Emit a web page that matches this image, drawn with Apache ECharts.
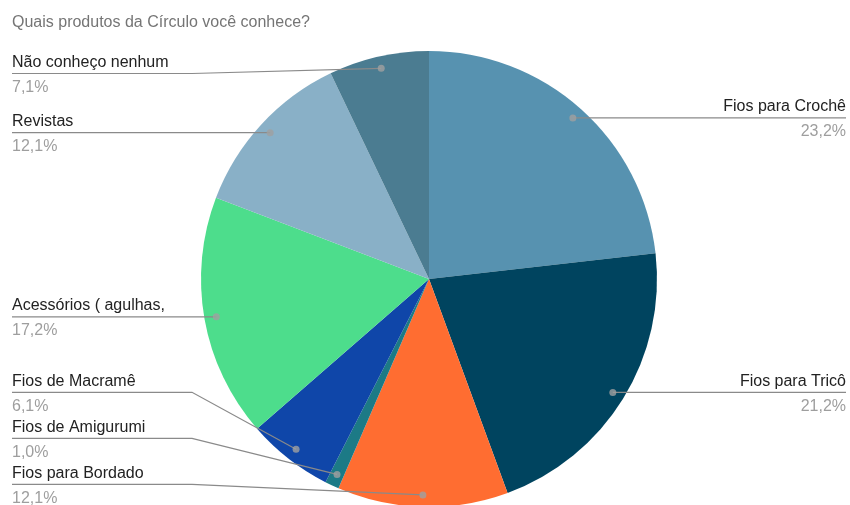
<!DOCTYPE html>
<html>
<head>
<meta charset="utf-8">
<script src="https://cdn.jsdelivr.net/npm/echarts@6/dist/echarts.min.js"></script>
<style>
  html, body { margin: 0; padding: 0; background: #ffffff; }
  #chart { width: 850px; height: 505px; }
</style>
</head>
<body>
<div id="chart"></div>
<script>
// Survey answers: share of respondents per product line (percent)
const categories = [
  'Fios para Crochê',
  'Fios para Tricô',
  'Fios para Bordado',
  'Fios de Amigurumi',
  'Fios de Macramê',
  'Acessórios ( agulhas,',
  'Revistas',
  'Não conheço nenhum'
];
const shares = [23.2, 21.2, 12.1, 1.0, 6.1, 17.2, 12.1, 7.1];
const sliceColors = ['#5792b0', '#00445f', '#ff6d31', '#1c7a86', '#0f46a9', '#4ddd8c', '#89b0c7', '#4b7c91'];

const FONT = "'Liberation Sans', Arial, sans-serif";
const CENTER = [429, 279];
const RADIUS = 228;
const DOT_RADIUS = 216;          // leader lines start a little inside the rim
const LEFT_EDGE = 12;
const RIGHT_EDGE = 846;
const LABEL_TOP = 73.5;
const LABEL_BOTTOM = 484.3;
const LABEL_GAP = 46;
const BEND_X = 192;

// angular midpoint of every slice, in percent of the full turn
const midShares = [];
let acc = 0;
shares.forEach(v => { midShares.push(acc + v / 2); acc += v; });

const fmtPct = v => v.toFixed(1).replace('.', ',') + '%';

const pieCommon = {
  type: 'pie',
  center: CENTER,
  radius: RADIUS,
  startAngle: 90,
  clockwise: true,
  avoidLabelOverlap: false,
  emphasis: { disabled: true },
  silent: true
};

const chart = echarts.init(document.getElementById('chart'), null, { renderer: 'canvas' });

chart.setOption({
  animation: false,
  title: {
    text: 'Quais produtos da Círculo você conhece?',
    left: 12,
    top: 15,
    padding: 0,
    textStyle: { fontFamily: FONT, fontSize: 16, fontWeight: 'normal', color: '#757575' }
  },
  polar: { center: CENTER, radius: RADIUS },
  angleAxis: { type: 'value', min: 0, max: 100, startAngle: 90, clockwise: true, show: false },
  radiusAxis: { type: 'value', min: 0, max: RADIUS, show: false },
  series: [
    // coloured slices
    Object.assign({}, pieCommon, {
      z: 2,
      data: categories.map((name, i) => ({ name, value: shares[i], itemStyle: { color: sliceColors[i] } })),
      label: { show: false },
      labelLine: { show: false }
    }),
    // transparent twin that carries the labels, so leader lines sit above the slices
    Object.assign({}, pieCommon, {
      z: 3,
      data: categories.map((name, i) => ({ name, value: shares[i] })),
      itemStyle: { color: 'rgba(0,0,0,0)' },
      label: {
        show: true,
        position: 'outer',
        width: 340,
        overflow: 'none',
        formatter: p => `{n|${p.name}}\n{p|${fmtPct(p.value)}}`,
        rich: {
          n: { fontFamily: FONT, fontSize: 16, color: '#222222', lineHeight: 25 },
          p: { fontFamily: FONT, fontSize: 16, color: '#9e9e9e', lineHeight: 25 }
        }
      },
      labelLine: { show: true, lineStyle: { color: '#8a8a8a', width: 1.2 } }
    }),
    {
      type: 'scatter',
      coordinateSystem: 'polar',
      symbolSize: 7,
      silent: true,
      z: 5,
      itemStyle: { color: '#a0a0a0' },
      data: midShares.map(m => [DOT_RADIUS, m])
    }
  ]
});

// leader-line anchor points, taken from the polar scale
const dots = midShares.map(m => {
  const pt = chart.convertToPixel({ seriesIndex: 2 }, [DOT_RADIUS, m]);
  if (pt) return pt;
  const a = m / 100 * 2 * Math.PI;
  return [CENTER[0] + DOT_RADIUS * Math.sin(a), CENTER[1] - DOT_RADIUS * Math.cos(a)];
});

const side = dots.map(d => (d[0] < CENTER[0] ? 'left' : 'right'));
const lineY = dots.map(d => d[1]);

// keep labels on each side inside the frame and apart from each other
function stack(indices) {
  indices.sort((a, b) => dots[a][1] - dots[b][1]);
  const ys = indices.map(i => Math.min(Math.max(dots[i][1], LABEL_TOP), LABEL_BOTTOM));
  for (let k = ys.length - 2; k >= 0; k--) ys[k] = Math.min(ys[k], ys[k + 1] - LABEL_GAP);
  for (let k = 1; k < ys.length; k++) ys[k] = Math.max(ys[k], ys[k - 1] + LABEL_GAP);
  indices.forEach((i, k) => { lineY[i] = ys[k]; });
}
stack(side.map((s, i) => (s === 'left' ? i : -1)).filter(i => i >= 0));
stack(side.map((s, i) => (s === 'right' ? i : -1)).filter(i => i >= 0));

chart.setOption({
  series: [{}, {
    labelLayout: p => {
      const i = p.dataIndex;
      const d = dots[i];
      const L = lineY[i];
      const isLeft = side[i] === 'left';
      const edgeX = isLeft ? LEFT_EDGE : RIGHT_EDGE;
      const bendX = isLeft ? Math.min(BEND_X, d[0]) : (d[0] + RIGHT_EDGE) / 2;
      return {
        x: edgeX,
        y: L + 1.3,
        align: isLeft ? 'left' : 'right',
        verticalAlign: 'middle',
        labelLinePoints: [[d[0], d[1]], [bendX, L], [edgeX, L]]
      };
    }
  }]
});
</script>
</body>
</html>
